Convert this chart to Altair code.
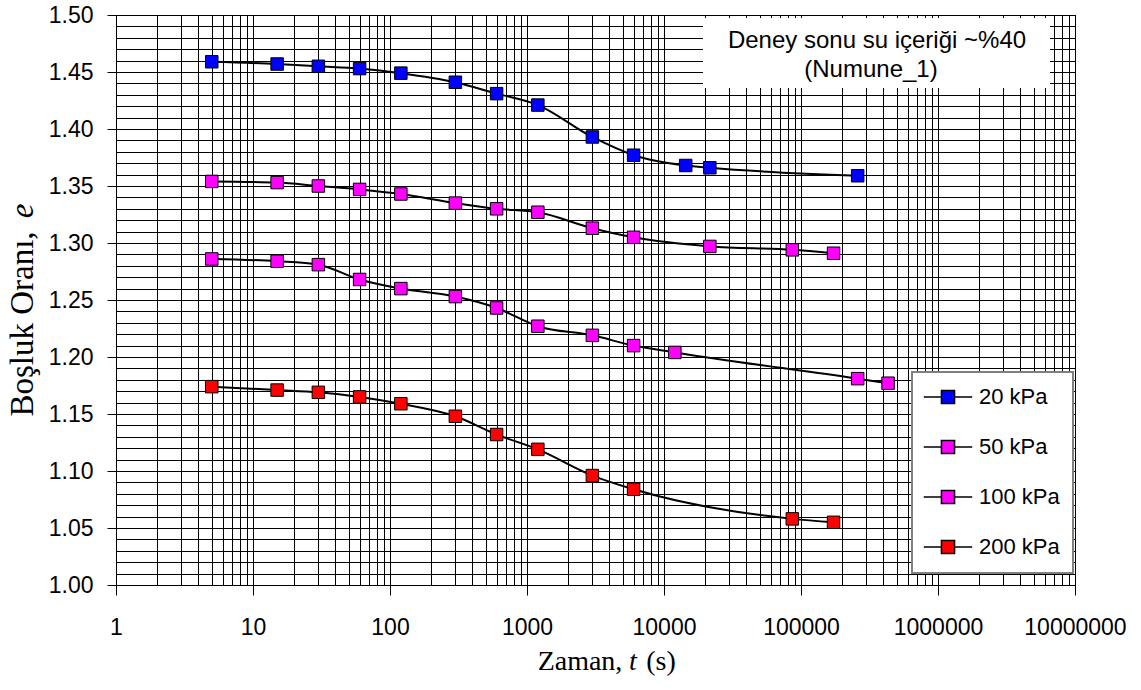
import altair as alt
import pandas as pd

# ---- data ----
series_names = ["20 kPa", "50 kPa", "100 kPa", "200 kPa"]
series_colors = ["#0000FF", "#FF00FF", "#FF00FF", "#FF0000"]

t20 = [5, 15, 30, 60, 120, 300, 600, 1200, 3000, 6000, 14400, 21600, 259200]
e20 = [1.459, 1.457, 1.455, 1.453, 1.449, 1.441, 1.431, 1.421, 1.393, 1.377, 1.368, 1.366, 1.359]

t50 = [5, 15, 30, 60, 120, 300, 600, 1200, 3000, 6000, 21600, 86400, 172800]
e50 = [1.354, 1.353, 1.350, 1.347, 1.343, 1.335, 1.330, 1.327, 1.313, 1.305, 1.297, 1.294, 1.291]

t100 = [5, 15, 30, 60, 120, 300, 600, 1200, 3000, 6000, 12000, 259200, 432000]
e100 = [1.286, 1.284, 1.281, 1.268, 1.260, 1.253, 1.243, 1.227, 1.219, 1.210, 1.204, 1.181, 1.177]

t200 = [5, 15, 30, 60, 120, 300, 600, 1200, 3000, 6000, 86400, 172800]
e200 = [1.174, 1.171, 1.169, 1.165, 1.159, 1.148, 1.132, 1.119, 1.096, 1.084, 1.058, 1.055]

x_major_labels = [1, 10, 100, 1000, 10000, 100000, 1000000, 10000000]
y_major_labels = [1.00, 1.05, 1.10, 1.15, 1.20, 1.25, 1.30, 1.35, 1.40, 1.45, 1.50]

note_line1 = "Deney sonu su içeriği ~%40"
note_line2 = "(Numune_1)"

# grid positions (log minor grid on x, 0.01 steps on y)
x_grid = [k * d for d in x_major_labels[:-1] for k in range(1, 10)] + [x_major_labels[-1]]
y_grid = [round(1.0 + 0.01 * i, 2) for i in range(51)]

rows = []
for name, ts, es in zip(series_names, [t20, t50, t100, t200], [e20, e50, e100, e200]):
    for i, (t, e) in enumerate(zip(ts, es)):
        rows.append({"series": name, "t": t, "e": e, "i": i})
df = pd.DataFrame(rows)

W, H = 959, 570
SANS = "Liberation Sans"
SERIF = "Liberation Serif"

x_scale = alt.Scale(type="log", domain=[1, 10000000], nice=False)
y_scale = alt.Scale(domain=[1.0, 1.5], nice=False, zero=False)

is_major_x = "abs(log(datum.value)/LN10 - round(log(datum.value)/LN10)) < 0.000001"
is_major_y = "abs(datum.value*20 - round(datum.value*20)) < 0.001"

x_axis = alt.Axis(
    values=x_grid, tickCount=500, title=None, grid=True, gridColor="#000000", gridWidth=1, gridOpacity=1,
    labelExpr=f"{is_major_x} ? format(datum.value, 'd') : ''",
    labelFont=SANS, labelFontSize=23, labelColor="#000000", labelPadding=21,
    labelOverlap=False, labelFlush=False,
    tickSize=10, tickColor="#000000", tickWidth=1,
    tickOpacity={"condition": {"test": is_major_x, "value": 1}, "value": 0},
    domainColor="#000000", domainWidth=1,
)
y_axis = alt.Axis(
    values=y_grid, tickCount=500, title=None, grid=True, gridColor="#000000", gridWidth=1, gridOpacity=1,
    labelExpr=f"{is_major_y} ? format(datum.value, '.2f') : ''",
    labelFont=SANS, labelFontSize=23, labelColor="#000000", labelPadding=14,
    labelOverlap=False, labelFlush=False,
    tickSize=9, tickColor="#000000", tickWidth=1,
    tickOpacity={"condition": {"test": is_major_y, "value": 1}, "value": 0},
    domainColor="#000000", domainWidth=1,
)

legend_symbol = "M-1,0H-0.27M0.27,0H1M-0.27,-0.27H0.27V0.27H-0.27Z"

base = alt.Chart(df)

lines = base.mark_line(color="#000000", strokeWidth=2, interpolate="monotone").encode(
    x=alt.X("t:Q", scale=x_scale, axis=x_axis),
    y=alt.Y("e:Q", scale=y_scale, axis=y_axis),
    detail="series:N",
    order="i:Q",
)

points = base.mark_point(shape="square", filled=True, size=156, stroke="#000000",
                         strokeWidth=1, opacity=1).encode(
    x=alt.X("t:Q", scale=x_scale),
    y=alt.Y("e:Q", scale=y_scale),
    color=alt.Color(
        "series:N",
        scale=alt.Scale(domain=series_names, range=series_colors),
        sort=series_names,
        legend=alt.Legend(
            orient="none", legendX=796, legendY=357, padding=0, title=None,
            symbolType=legend_symbol, symbolSize=2352, symbolOffset=11,
            symbolStrokeColor="#000000", symbolStrokeWidth=1.5,
            labelFont=SANS, labelFontSize=22, labelColor="#000000", labelOffset=6,
            rowPadding=14,
        ),
    ),
)

one = pd.DataFrame({"k": [0]})

legend_box = alt.Chart(one).mark_rect(fill="#FFFFFF", stroke="#808080", strokeWidth=2).encode(
    x=alt.value(796), x2=alt.value(957), y=alt.value(357), y2=alt.value(558)
)
note_box = alt.Chart(one).mark_rect(fill="#FFFFFF", strokeWidth=0).encode(
    x=alt.value(587), x2=alt.value(934), y=alt.value(3), y2=alt.value(73)
)
note1 = alt.Chart(one).mark_text(text=note_line1, font=SANS, fontSize=24, color="#000000",
                                 align="center", baseline="alphabetic").encode(
    x=alt.value(761), y=alt.value(33))
note2 = alt.Chart(one).mark_text(text=note_line2, font=SANS, fontSize=24, color="#000000",
                                 align="center", baseline="alphabetic").encode(
    x=alt.value(755), y=alt.value(62))

# axis titles with italic symbols
xt1 = alt.Chart(one).mark_text(text="Zaman,", font=SERIF, fontSize=28, color="#000000",
                               align="center", baseline="alphabetic").encode(
    x=alt.value(464), y=alt.value(655))
xt2 = alt.Chart(one).mark_text(text="t", font=SERIF, fontSize=28, fontStyle="italic", color="#000000",
                               align="center", baseline="alphabetic").encode(
    x=alt.value(517), y=alt.value(655))
xt3 = alt.Chart(one).mark_text(text="(s)", font=SERIF, fontSize=28, color="#000000",
                               align="center", baseline="alphabetic").encode(
    x=alt.value(545), y=alt.value(655))
yt1 = alt.Chart(one).mark_text(text="Boşluk Oranı,", font=SERIF, fontSize=33, color="#000000",
                               align="center", baseline="alphabetic", angle=270).encode(
    x=alt.value(-83), y=alt.value(309))
yt2 = alt.Chart(one).mark_text(text="e", font=SERIF, fontSize=33, fontStyle="italic", color="#000000",
                               align="center", baseline="alphabetic", angle=270).encode(
    x=alt.value(-83), y=alt.value(196))

chart = alt.layer(
    note_box, legend_box, lines, points, note1, note2, xt1, xt2, xt3, yt1, yt2
).properties(
    width=W, height=H,
    autosize=alt.AutoSizeParams(type="none"),
    padding={"left": 116, "top": 15, "right": 66, "bottom": 105},
    background="#FFFFFF",
).configure_view(
    stroke="#000000", strokeWidth=1
)

chart.save("out.html", embed_options={"renderer": "svg", "actions": False})
